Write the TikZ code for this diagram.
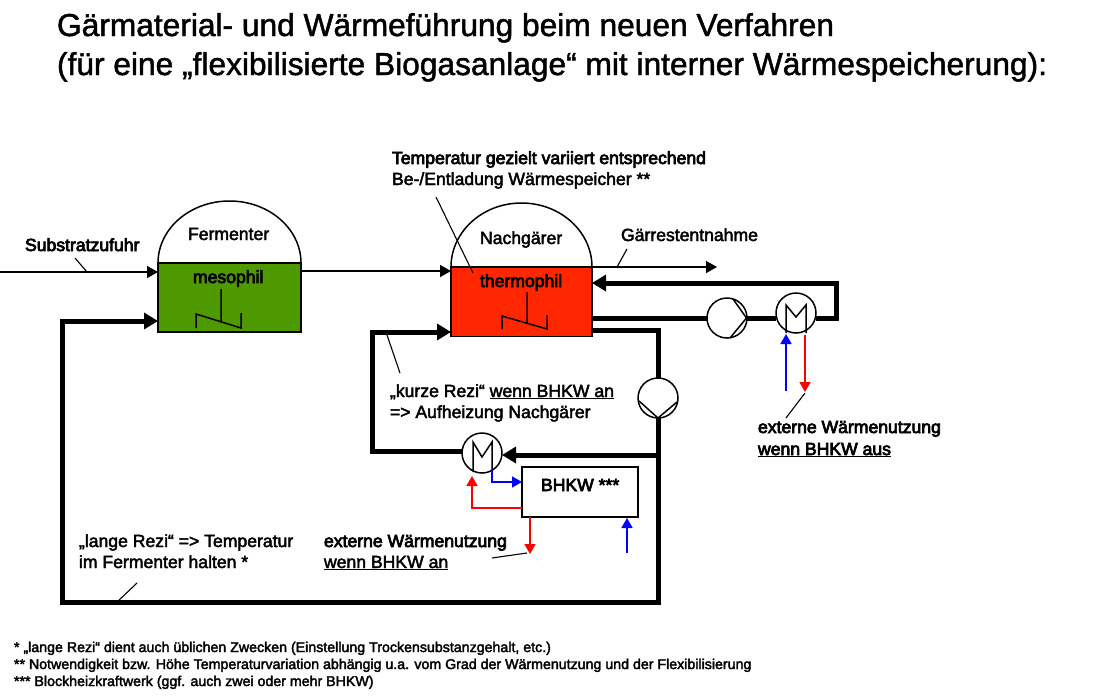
\documentclass[tikz,border=0pt]{standalone}
\usepackage{fontspec}
\setmainfont{Liberation Sans}
\newfontfamily\fbold[FakeBold=4]{Liberation Sans}
\newfontfamily\fsemi[FakeBold=2.5]{Liberation Sans}
\newfontfamily\ftitle[FakeBold=1.5]{Liberation Sans}
\usetikzlibrary{arrows.meta}
\definecolor{fgreen}{HTML}{4F9900}
\definecolor{fred}{HTML}{FF2600}
\tikzset{
  every node/.style={inner sep=0pt,outer sep=0pt,anchor=base west,font=\fontsize{17.6}{20}\selectfont},
  thick line/.style={line width=5pt,line cap=butt,line join=miter},
  thin line/.style={line width=1.5pt},
  leader/.style={line width=1.1pt},
  small tip/.style={-{Triangle[length=10pt,width=11pt]}},
  big tip/.style={-{Triangle[length=11pt,width=12pt]}},
  huge tip/.style={-{Triangle[length=14pt,width=16pt]}},
  blue line/.style={blue,line width=1.7pt,small tip},
  red line/.style={red,line width=1.7pt,small tip},
  vessel/.style={draw=black,line width=1.5pt},
  boxed/.style={draw=black,line width=1.8pt,anchor=north west},
  symbol/.style={line width=1.5pt},
  titletext/.style={font=\ftitle\fontsize{31.7}{36}\selectfont},
  notetext/.style={font=\fsemi\fontsize{14.2}{16}\selectfont},
  labelbold/.style={font=\fbold\fontsize{17.6}{20}\selectfont},
  labelsemi/.style={font=\fsemi\fontsize{17.6}{20}\selectfont},
  machine/.style={circle,draw=black,line width=1.5pt,fill=white,minimum size=40pt,anchor=center}
}
\begin{document}
\begin{tikzpicture}[x=1pt,y=-1pt]
\useasboundingbox (0,0) rectangle (1100,697);
% titles
\node[titletext] (t1) at (57,36) {Gärmaterial- und Wärmeführung beim neuen Verfahren};
\node[titletext] (t2) at (57,75) {(für eine „flexibilisierte Biogasanlage“ mit interner Wärmespeicherung):};
% vessels
\draw[vessel,fill=white] (158,263) arc[start angle=180,end angle=360,x radius=71.5,y radius=62] -- cycle;
\node[boxed,fill=fgreen,minimum width=143pt,minimum height=69pt] (ferm) at (158,263) {};
\draw[vessel,fill=white] (451,267) arc[start angle=180,end angle=360,x radius=70.5,y radius=64] -- cycle;
\node[boxed,fill=fred,minimum width=141pt,minimum height=69.5pt] (nach) at (451,267) {};
\node[boxed,fill=white,minimum width=116pt,minimum height=50pt] (bhkw) at (522,467) {};
% heaters
\draw[symbol] (221,289) -- (221,322) (196,328) -- (196,314) -- (241,328) -- (241,313);
\draw[symbol] (527,292) -- (527,323) (502,329) -- (502,316) -- (547,329) -- (547,315);
% named points
\coordinate (subin) at (0,272);
\coordinate (subend) at (158,272);
\coordinate (fout) at (301,271);
\coordinate (nin) at (451,271);
\coordinate (gout) at (592,267);
\coordinate (gend) at (717,267);
% machines
\node[machine] (p1) at (727,318) {};
\node[machine] (p2) at (658,398) {};
\node[machine] (h1) at (796,313) {};
\node[machine] (h2) at (482,453) {};
% thin flows
\draw[thin line,big tip] (subin) -- (subend);
\draw[thin line,big tip] (fout) -- (nin);
\draw[thin line,big tip] (gout) -- (gend);
% thick flows
\coordinate (nr1) at (592,318);
\coordinate (nr2) at (592,283);
\coordinate (nr3) at (592,330);
\coordinate (fl) at (158,321);
\coordinate (nl) at (451,332);
\draw[thick line] (nr1) -- (p1.west);
\draw[thick line] (p1.east) -- (h1.west |- p1.east);
\draw[thick line,huge tip] (h1.east |- p1.east) -- (836,318) -- (836,283) -- (nr2);
\draw[thick line] (nr3) -- (658,330) -- (p2.north);
\draw[thick line,huge tip] (p2.south) -- (658,602) -- (62,602) -- (62,321) -- (fl);
\draw[thick line,huge tip] (658,455) -- (h2.east |- 0,455);
\draw[thick line,huge tip] (h2.west |- 0,451) -- (372,451) -- (372,332) -- (nl);
% machine symbols
\draw[symbol] (733,299) -- (746.5,318) -- (730,338);
\draw[symbol] (639,401) -- (658,418) -- (677,402);
\draw[symbol] (786,333) -- (786,305) -- (796,317) -- (806,305) -- (806,333);
\draw[symbol] (473,472) -- (473,442) -- (482,457) -- (492,442) -- (492,470);
% heat lines
\draw[blue line] (786,391) -- (786,334);
\draw[red line] (805,335) -- (805,392);
\draw[blue line] (492,470) -- (492,482) -- (522,482);
\draw[red line] (bhkw.west |- 0,508) -- (472,508) -- (472,476);
\draw[red line] (530,517) -- (530,554);
\draw[blue line] (627,553) -- (627,518);
% leaders
\draw[leader] (75,258) -- (87,272);
\draw[leader] (436,197) -- (473,273);
\draw[leader] (627,249) -- (617,267);
\draw[leader] (387,335) -- (400,373);
\draw[leader] (786,418) -- (805,393);
\draw[leader] (492,558) -- (527,553);
\draw[leader] (117,602) -- (137,583);
% labels
\node[labelbold] (l1) at (25,251) {Substratzufuhr};
\node[labelsemi] (l2) at (188,240) {Fermenter};
\node[labelbold] (l3) at (193,283) {mesophil};
\node[labelbold] (l4) at (392,164) {Temperatur gezielt variiert entsprechend};
\node[labelsemi] (l5) at (392,185) {Be-/Entladung Wärmespeicher **};
\node[labelsemi] (l6) at (480,244) {Nachgärer};
\node[labelbold] (l7) at (480,287) {thermophil};
\node[labelsemi] (l8) at (621,241) {Gärrestentnahme};
\node[labelsemi] (l9) at (390,397) {„kurze Rezi“ \underline{wenn BHKW an}};
\node[labelsemi] (l10) at (390,418) {=> Aufheizung Nachgärer};
\node[labelbold] (l11) at (541,491) {BHKW ***};
\node[labelbold] (l12) at (758,433) {externe Wärmenutzung};
\node[labelbold] (l13) at (758,455) {\underline{wenn BHKW aus}};
\node[labelsemi] (l14) at (79,547) {„lange Rezi“ => Temperatur};
\node[labelsemi] (l15) at (79,568) {im Fermenter halten *};
\node[labelbold] (l16) at (324,547) {externe Wärmenutzung};
\node[labelsemi] (l17) at (324,568) {\underline{wenn BHKW an}};
\node[notetext] (n1) at (14,652) {* „lange Rezi“ dient auch üblichen Zwecken (Einstellung Trockensubstanzgehalt, etc.)};
\node[notetext] (n2) at (14,669) {** Notwendigkeit bzw. Höhe Temperaturvariation abhängig u.a. vom Grad der Wärmenutzung und der Flexibilisierung};
\node[notetext] (n3) at (14,686) {*** Blockheizkraftwerk (ggf. auch zwei oder mehr BHKW)};
\end{tikzpicture}
\end{document}
